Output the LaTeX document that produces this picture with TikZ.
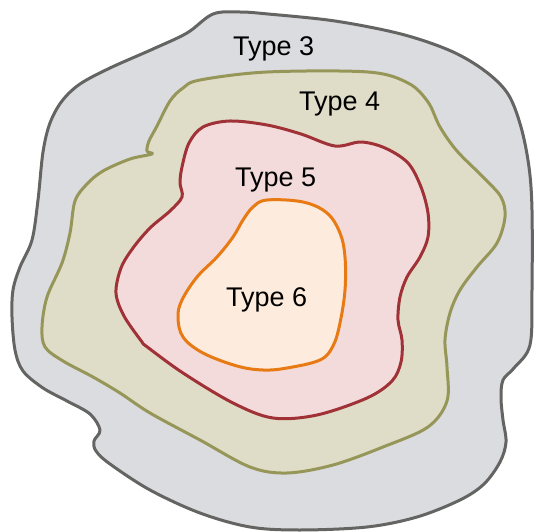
\documentclass[tikz,border=0pt]{standalone}
\usepackage{fontspec}
\setmainfont{Liberation Sans}
\usepackage{xcolor}
\usepackage{tikz}

\definecolor{grayfill}{RGB}{219,220,224}
\definecolor{grayline}{RGB}{100,100,98}
\definecolor{olivefill}{RGB}{223,221,200}
\definecolor{oliveline}{RGB}{150,150,88}
\definecolor{pinkfill}{RGB}{244,219,219}
\definecolor{redline}{RGB}{160,50,55}
\definecolor{peachfill}{RGB}{253,235,221}
\definecolor{orangeline}{RGB}{232,122,20}

\begin{document}
\begin{tikzpicture}[
  x=1pt, y=-1pt,
  zone/.style={line width=3pt, line join=round},
  lbl/.style={anchor=base west, inner sep=0pt, font=\fontsize{27}{32}\selectfont}
]
  \useasboundingbox (0,0) rectangle (536,532);

  % Type 3
  \draw[zone, draw=grayline, fill=grayfill] plot[smooth cycle, tension=0.55] coordinates {
    (213,14) (240,12) (268,14) (335,21) (401,34) (451,51) (485,71) (508,94)
    (521,127) (529,167) (532,210) (532,290) (530,345) (514,368) (503,380)
    (501,398) (503,420) (506,442) (500,462) (484,484) (460,500) (417,517)
    (367,527) (300,530) (250,527) (200,513) (150,490) (110,464) (96,451)
    (94,441) (100,430) (90,414) (67,401) (43,388) (23,371) (15,350) (12,317)
    (13,290) (20,267) (32,240) (38,200) (43,152) (50,123) (62,101) (80,84)
    (110,68) (153,49) (187,33)};

  % Type 4
  \draw[zone, draw=oliveline, fill=olivefill] plot[smooth cycle, tension=0.55] coordinates {
    (200,80) (267,72) (368,72) (408,83) (428,102) (440,127) (457,151)
    (483,177) (501,197) (505,217) (497,243) (477,267) (460,290) (450,313)
    (445,340) (447,367) (447,401) (428,427) (383,447) (333,465) (287,473)
    (250,467) (200,440) (150,413) (120,393) (93,377) (63,361) (45,347)
    (42,327) (47,297) (62,263) (70,233) (75,201) (87,184) (103,171)
    (130,159) (152,154) (147,151) (149,141) (157,126) (170,101) (183,88)};

  % Type 5
  \draw[zone, draw=redline, fill=pinkfill] plot[smooth cycle, tension=0.55] coordinates {
    (230,121) (267,125) (301,134) (335,146) (361,142) (385,148) (408,163)
    (421,187) (428,213) (428,237) (420,257) (407,277) (400,297) (398,320)
    (402,340) (401,362) (392,381) (367,398) (317,415) (273,418) (233,403)
    (183,373) (146,346) (142,342) (124,316) (116,293) (121,268)
    (133,248) (150,228) (170,211) (182,197) (180,183) (182,167) (189,143)
    (203,127)};

  % Type 6
  \draw[zone, draw=orangeline, fill=peachfill] plot[smooth cycle, tension=0.6] coordinates {
    (267,200) (303,202) (327,213) (340,233) (345,257) (345,290) (340,323)
    (333,346) (320,360) (287,368) (263,370) (237,366) (203,353) (183,337)
    (178,317) (182,300) (197,277) (217,257) (233,237) (243,220) (253,207)};

  % Labels
  \node[lbl] (t3) at (233,56) {Type 3};
  \node[lbl] (t4) at (299,111) {Type 4};
  \node[lbl] (t5) at (235,186) {Type 5};
  \node[lbl] (t6) at (226,306) {Type 6};
\end{tikzpicture}
\end{document}
